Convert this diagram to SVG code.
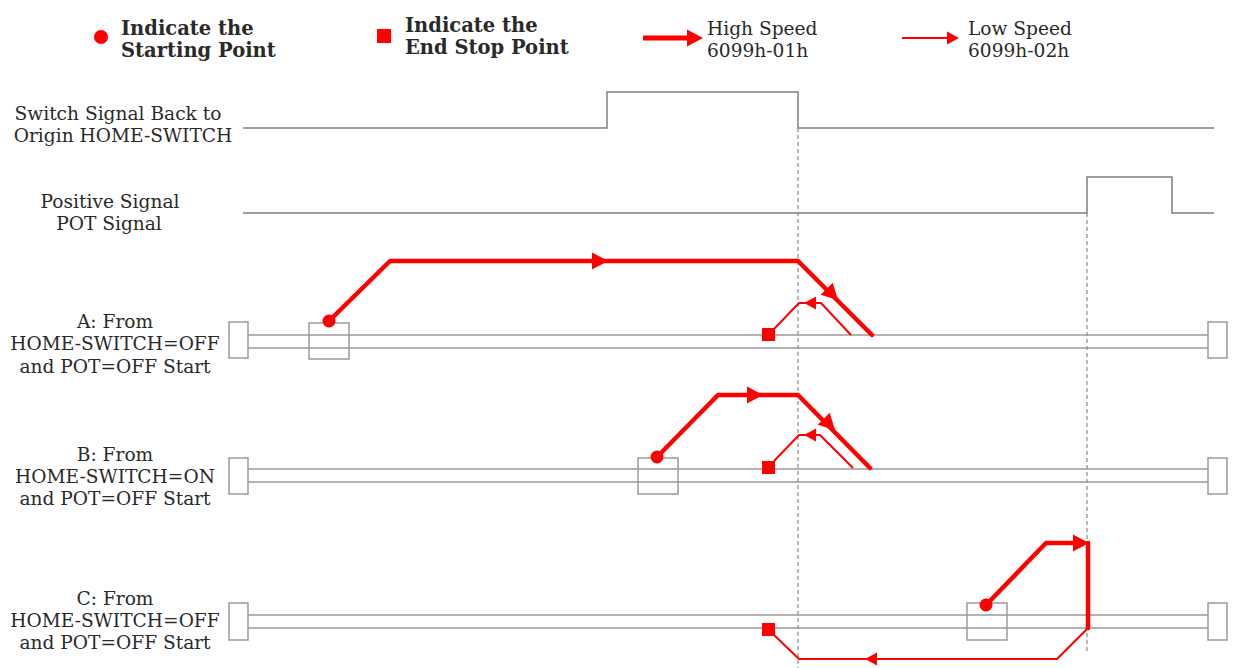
<svg xmlns="http://www.w3.org/2000/svg" xmlns:xlink="http://www.w3.org/1999/xlink" width="1242" height="668" viewBox="0 0 1242 668">
<style>
text{font-family:"DejaVu Serif","Liberation Serif",serif;font-size:18.6px;fill:#2a2a2a}
.b{font-weight:bold;font-size:19.5px}
.m{text-anchor:middle}
.sig{fill:none;stroke:#808080;stroke-width:1.5}
.rail{fill:none;stroke:#9a9a9a;stroke-width:1.5}
.box{fill:#fff;stroke:#9a9a9a;stroke-width:1.5}
.sbox{fill:none;stroke:#9a9a9a;stroke-width:1.5}
.dash{fill:none;stroke:#8a8a8a;stroke-width:1.2;stroke-dasharray:4 3}
.hi{fill:none;stroke:#f00;stroke-width:4.5;stroke-linejoin:round;stroke-linecap:round}
.lo{fill:none;stroke:#f00;stroke-width:2;stroke-linejoin:round}
.red{fill:#f00}
</style>
<defs>
<path id="ah" d="M0,0 L-16,-8.5 L-16,8.5 Z" fill="#f00"/>
<path id="al" d="M0,0 L-12,-6.5 L-12,6.5 Z" fill="#f00"/>
</defs>
<rect width="1242" height="668" fill="#fff"/>

<g id="legend">
<circle class="red" cx="101" cy="37" r="7"/>
<text class="b" x="121" y="35">Indicate the</text>
<text class="b" x="121" y="57">Starting Point</text>
<rect class="red" x="377" y="29" width="14" height="14"/>
<text class="b" x="405" y="32">Indicate the</text>
<text class="b" x="405" y="54">End Stop Point</text>
<line x1="643" y1="38" x2="690" y2="38" stroke="#f00" stroke-width="5"/>
<use xlink:href="#ah" transform="translate(703,38)"/>
<text x="707" y="35">High Speed</text>
<text x="707" y="57">6099h-01h</text>
<line x1="902" y1="38" x2="950" y2="38" stroke="#f00" stroke-width="2"/>
<use xlink:href="#al" transform="translate(959,38)"/>
<text x="968" y="35">Low Speed</text>
<text x="968" y="57">6099h-02h</text>
</g>

<g id="home-switch-signal">
<text class="m" x="118" y="120">Switch Signal Back to</text>
<text class="m" x="123" y="142">Origin HOME-SWITCH</text>
<path class="sig" d="M243,128 H607 V92 H798 V128 H1214"/>
</g>

<g id="pot-signal">
<text class="m" x="110" y="208">Positive Signal</text>
<text class="m" x="109" y="230">POT Signal</text>
<path class="sig" d="M243,213 H1087 V177 H1172 V213 H1214"/>
</g>

<g id="guides">
<line class="dash" x1="798" y1="128" x2="798" y2="668"/>
<line class="dash" x1="1087" y1="213" x2="1087" y2="652"/>
</g>

<g id="row-a">
<text class="m" x="115" y="328">A: From</text>
<text class="m" x="115" y="350">HOME-SWITCH=OFF</text>
<text class="m" x="115" y="373">and POT=OFF Start</text>
<path class="rail" d="M248,335 H1208 M248,348 H1208"/>
<rect class="box" x="229" y="322" width="19" height="36"/>
<rect class="box" x="1208" y="322" width="19" height="36"/>
<rect class="sbox" x="309" y="323" width="40" height="36"/>
</g>

<g id="row-b">
<text class="m" x="115" y="461">B: From</text>
<text class="m" x="115" y="483">HOME-SWITCH=ON</text>
<text class="m" x="115" y="505">and POT=OFF Start</text>
<path class="rail" d="M248,469 H1208 M248,482 H1208"/>
<rect class="box" x="229" y="458" width="19" height="36"/>
<rect class="box" x="1208" y="458" width="19" height="36"/>
<rect class="sbox" x="638" y="458" width="40" height="36"/>
</g>

<g id="row-c">
<text class="m" x="115" y="605">C: From</text>
<text class="m" x="115" y="627">HOME-SWITCH=OFF</text>
<text class="m" x="115" y="649">and POT=OFF Start</text>
<path class="rail" d="M248,615 H1208 M248,628 H1208"/>
<rect class="box" x="229" y="603" width="19" height="37"/>
<rect class="box" x="1208" y="603" width="19" height="37"/>
<rect class="sbox" x="967" y="603" width="40" height="37"/>
</g>

<g id="connectors">
<!-- A -->
<path class="hi" d="M329,321 L390,261 H798 L872,335"/>
<use xlink:href="#ah" transform="translate(608,261)"/>
<use xlink:href="#ah" transform="translate(838,300) rotate(45)"/>
<path class="lo" d="M851,335 L821,303 H799 L774,329"/>
<use xlink:href="#al" transform="translate(804,303) rotate(180)"/>
<circle class="red" cx="329" cy="321" r="6.5"/>
<rect class="red" x="762" y="328" width="13" height="13"/>
<!-- B -->
<path class="hi" d="M657,457 L718,395 H798 L870,468"/>
<use xlink:href="#ah" transform="translate(763,395)"/>
<use xlink:href="#ah" transform="translate(835,430) rotate(45)"/>
<path class="lo" d="M853,468 L820,435 H799 L774,461"/>
<use xlink:href="#al" transform="translate(804,435) rotate(180)"/>
<circle class="red" cx="657" cy="457" r="6.5"/>
<rect class="red" x="762" y="461" width="13" height="13"/>
<!-- C -->
<path class="hi" d="M986,605 L1046,543 H1074"/>
<use xlink:href="#ah" transform="translate(1089,543)"/>
<path class="hi" d="M1088,543 V628" stroke-linecap="butt"/>
<path class="lo" d="M1088,628 L1057,659 H799 L774,635"/>
<use xlink:href="#al" transform="translate(865,659) rotate(180)"/>
<circle class="red" cx="986" cy="605" r="6.5"/>
<rect class="red" x="762" y="623" width="13" height="13"/>
</g>
</svg>
